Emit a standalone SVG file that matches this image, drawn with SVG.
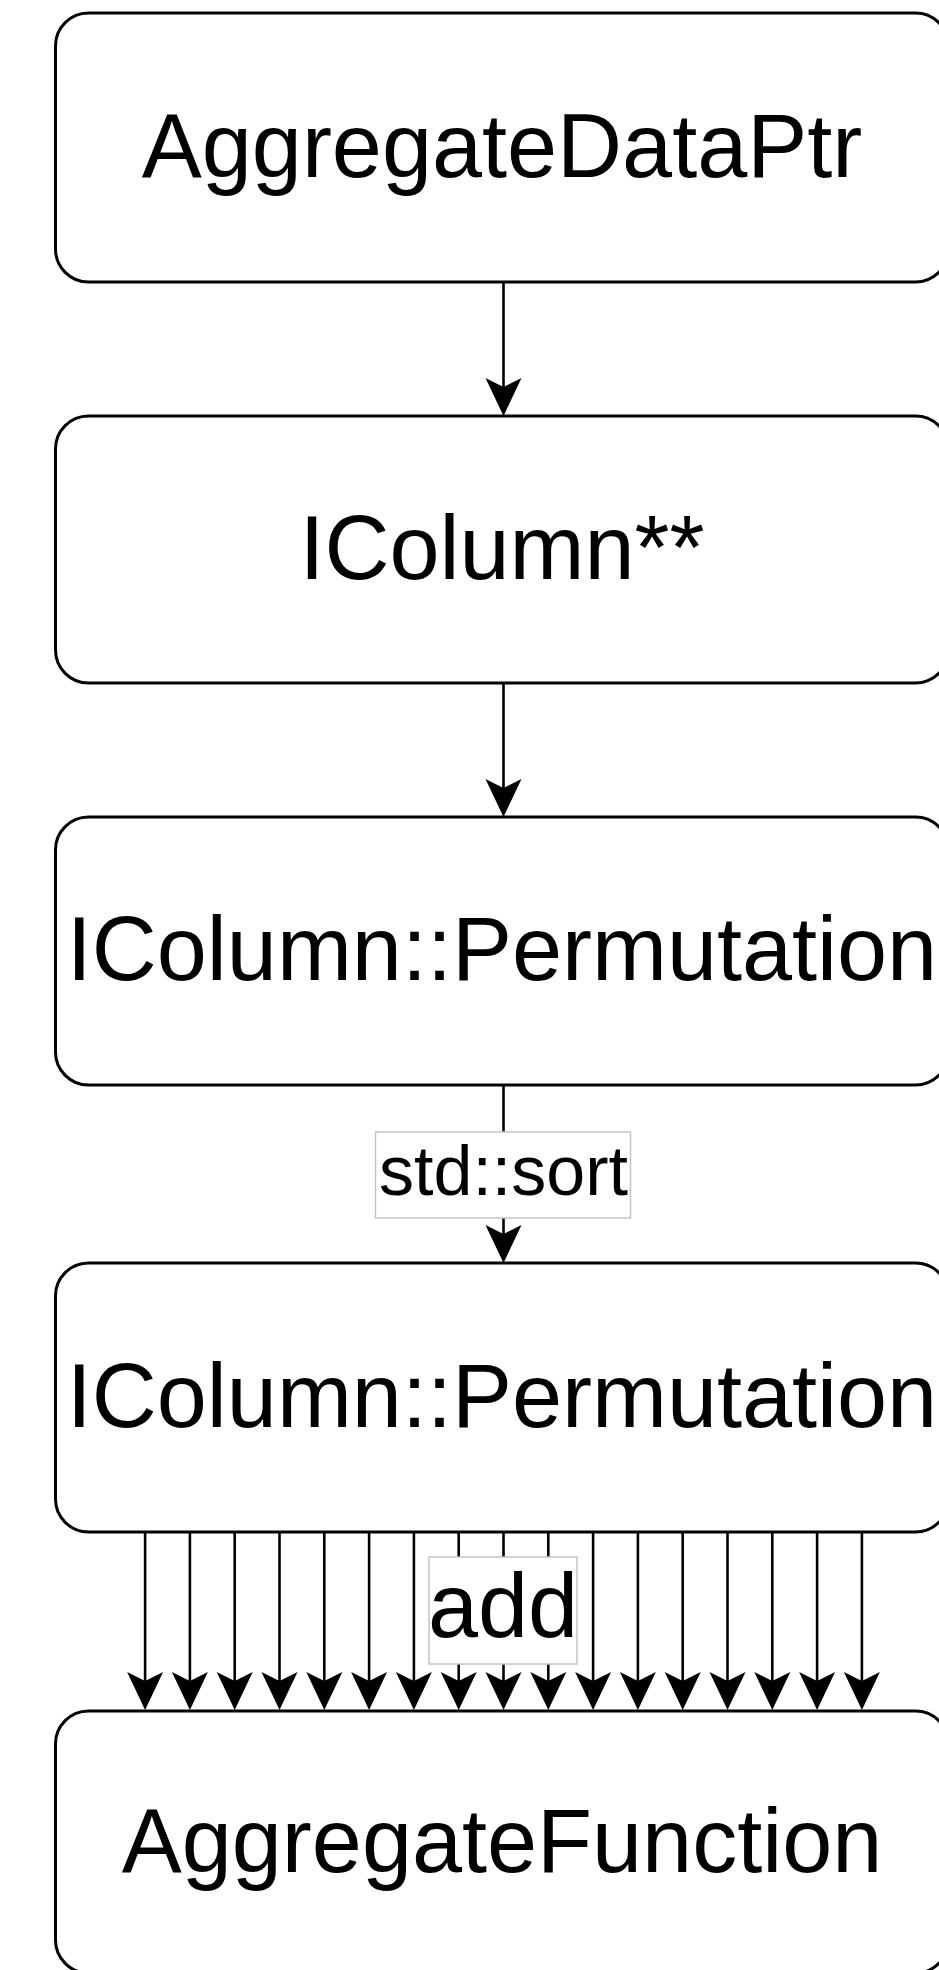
<svg xmlns="http://www.w3.org/2000/svg" xmlns:xlink="http://www.w3.org/1999/xlink" width="939" height="1970" viewBox="0 0 939 1970">
  <style>
    .box { fill: #ffffff; stroke: #000000; stroke-width: 3; }
    .lbl { font-family: "Liberation Sans", Arial, Helvetica, sans-serif; fill: #000000; text-anchor: middle; }
    .node-text { font-size: 90px; }
    .edge { stroke: #000000; stroke-width: 2.6; fill: none; }
    .edge-label-bg { fill: #ffffff; stroke: #c4c4c4; stroke-width: 1.5; }
  </style>
  <defs>
    <!-- classic notched arrowhead, tip at origin, pointing down -->
    <path id="head" d="M0,0 L-18,-38 L0,-29 L18,-38 Z" fill="#000000"/>
  </defs>

  <rect width="939" height="1970" fill="#ffffff"/>

  <g id="connectors">
    <!-- AggregateDataPtr -> IColumn** -->
    <g id="edge-1">
      <line class="edge" x1="503.5" y1="282" x2="503.5" y2="395"/>
      <use xlink:href="#head" x="503.5" y="416"/>
    </g>
    <!-- IColumn** -> IColumn::Permutation -->
    <g id="edge-2">
      <line class="edge" x1="503.5" y1="683" x2="503.5" y2="796"/>
      <use xlink:href="#head" x="503.5" y="817"/>
    </g>
    <!-- IColumn::Permutation -> IColumn::Permutation (std::sort) -->
    <g id="edge-3">
      <line class="edge" x1="503.5" y1="1085" x2="503.5" y2="1242"/>
      <use xlink:href="#head" x="503.5" y="1263"/>
      <rect class="edge-label-bg" x="375.5" y="1132" width="255" height="86"/>
      <text class="lbl" x="503.5" y="1195" font-size="70">std::sort</text>
    </g>
    <!-- IColumn::Permutation -> AggregateFunction (add), fan of parallel edges -->
    <g id="edge-add">
      <g class="edge">
        <line x1="145.1" y1="1532" x2="145.1" y2="1690"/>
        <line x1="189.9" y1="1532" x2="189.9" y2="1690"/>
        <line x1="234.7" y1="1532" x2="234.7" y2="1690"/>
        <line x1="279.5" y1="1532" x2="279.5" y2="1690"/>
        <line x1="324.3" y1="1532" x2="324.3" y2="1690"/>
        <line x1="369.1" y1="1532" x2="369.1" y2="1690"/>
        <line x1="413.9" y1="1532" x2="413.9" y2="1690"/>
        <line x1="458.7" y1="1532" x2="458.7" y2="1690"/>
        <line x1="503.5" y1="1532" x2="503.5" y2="1690"/>
        <line x1="548.3" y1="1532" x2="548.3" y2="1690"/>
        <line x1="593.1" y1="1532" x2="593.1" y2="1690"/>
        <line x1="637.9" y1="1532" x2="637.9" y2="1690"/>
        <line x1="682.7" y1="1532" x2="682.7" y2="1690"/>
        <line x1="727.5" y1="1532" x2="727.5" y2="1690"/>
        <line x1="772.3" y1="1532" x2="772.3" y2="1690"/>
        <line x1="817.1" y1="1532" x2="817.1" y2="1690"/>
        <line x1="861.9" y1="1532" x2="861.9" y2="1690"/>
      </g>
      <use xlink:href="#head" x="145.1" y="1710"/>
      <use xlink:href="#head" x="189.9" y="1710"/>
      <use xlink:href="#head" x="234.7" y="1710"/>
      <use xlink:href="#head" x="279.5" y="1710"/>
      <use xlink:href="#head" x="324.3" y="1710"/>
      <use xlink:href="#head" x="369.1" y="1710"/>
      <use xlink:href="#head" x="413.9" y="1710"/>
      <use xlink:href="#head" x="458.7" y="1710"/>
      <use xlink:href="#head" x="503.5" y="1710"/>
      <use xlink:href="#head" x="548.3" y="1710"/>
      <use xlink:href="#head" x="593.1" y="1710"/>
      <use xlink:href="#head" x="637.9" y="1710"/>
      <use xlink:href="#head" x="682.7" y="1710"/>
      <use xlink:href="#head" x="727.5" y="1710"/>
      <use xlink:href="#head" x="772.3" y="1710"/>
      <use xlink:href="#head" x="817.1" y="1710"/>
      <use xlink:href="#head" x="861.9" y="1710"/>
      <rect class="edge-label-bg" x="429" y="1557" width="148" height="107"/>
      <text class="lbl" x="503" y="1637" font-size="90">add</text>
    </g>
  </g>

  <g id="node-aggregate-data-ptr">
    <rect class="box" x="55.5" y="13" width="893" height="269" rx="33" ry="33"/>
    <text class="lbl node-text" x="502" y="177">AggregateDataPtr</text>
  </g>

  <g id="node-icolumn-ptrs">
    <rect class="box" x="55.5" y="416" width="893" height="267" rx="33" ry="33"/>
    <text class="lbl node-text" x="502" y="579">IColumn**</text>
  </g>

  <g id="node-permutation">
    <rect class="box" x="55.5" y="817" width="893" height="268" rx="33" ry="33"/>
    <text class="lbl node-text" x="502" y="980">IColumn::Permutation</text>
  </g>

  <g id="node-permutation-sorted">
    <rect class="box" x="55.5" y="1263" width="893" height="269" rx="33" ry="33"/>
    <text class="lbl node-text" x="502" y="1427">IColumn::Permutation</text>
  </g>

  <g id="node-aggregate-function">
    <rect class="box" x="55.5" y="1711" width="893" height="262" rx="33" ry="33"/>
    <text class="lbl node-text" x="502" y="1872">AggregateFunction</text>
  </g>
</svg>
